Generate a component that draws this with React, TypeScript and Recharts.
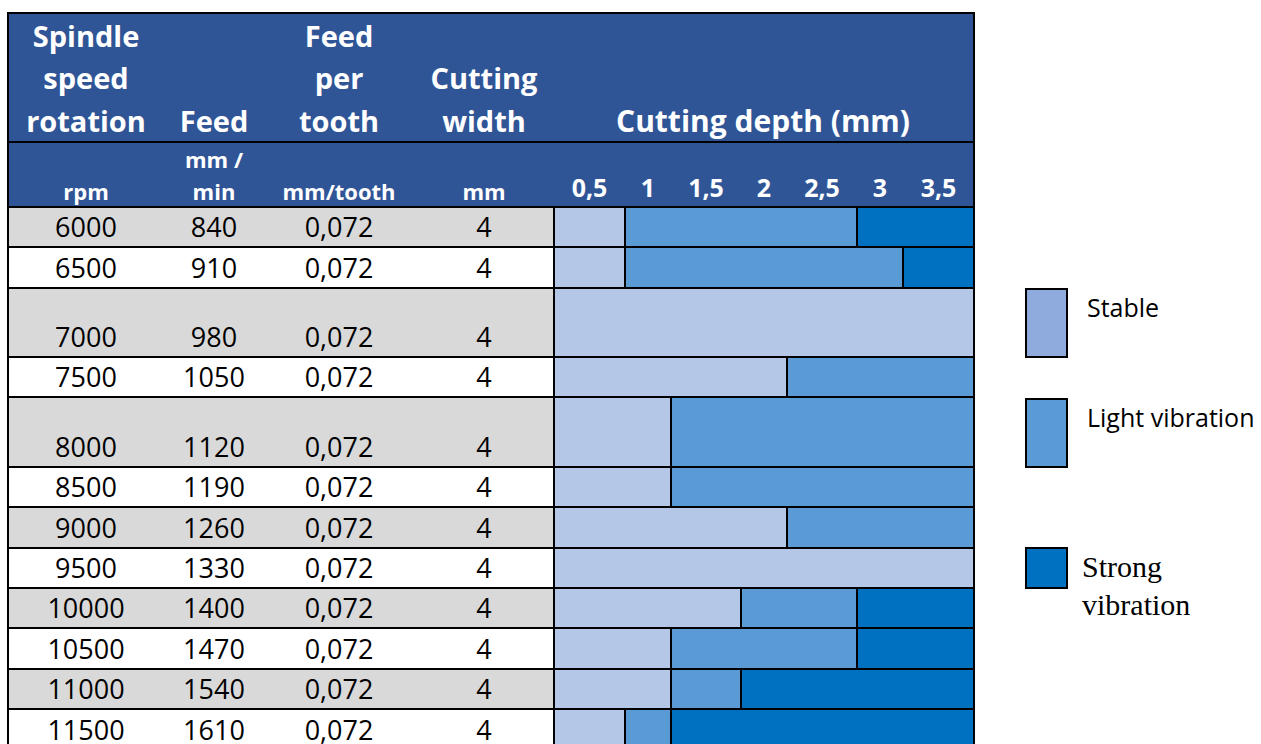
import React from "react";
import { BarChart, Bar, XAxis, YAxis } from "recharts";

const SPINDLE_RPM = [6000, 6500, 7000, 7500, 8000, 8500, 9000, 9500, 10000, 10500, 11000, 11500];
const FEED_MM_MIN = [840, 910, 980, 1050, 1120, 1190, 1260, 1330, 1400, 1470, 1540, 1610];
const FEED_PER_TOOTH = ["0,072", "0,072", "0,072", "0,072", "0,072", "0,072", "0,072", "0,072", "0,072", "0,072", "0,072", "0,072"];
const CUTTING_WIDTH = [4, 4, 4, 4, 4, 4, 4, 4, 4, 4, 4, 4];

// cutting depth columns (mm)
const DEPTH_LABELS = ["0,5", "1", "1,5", "2", "2,5", "3", "3,5"];
const DEPTH_TICKS = [0.25, 0.75, 1.25, 1.75, 2.25, 2.75, 3.25];

// extent (mm) of each vibration state along the depth axis, per row
const STABLE_MM = [0.5, 0.5, 3.5, 2, 1, 1, 2, 3.5, 1.5, 1, 1, 0.5];
const LIGHT_MM = [2, 2.5, 0, 1.5, 2.5, 2.5, 1.5, 0, 1, 1.5, 0.5, 0.5];
const STRONG_MM = [1, 0.5, 0, 0, 0, 0, 0, 0, 1, 1, 2, 2.5];

const SERIES = [
  { key: "stable", name: "Stable", color: "#B4C7E7", swatch: "#8FAADC" },
  { key: "light", name: "Light vibration", color: "#5B9BD5", swatch: "#5B9BD5" },
  { key: "strong", name: "Strong vibration", color: "#0070C0", swatch: "#0070C0" },
];

// ---- layout ----
const HEADER_BLUE = "#2F5597";
const ROW_GRAY = "#D9D9D9";
const FONT = "'Open Sans', sans-serif";
const LEFT = 8;
const RIGHT = 974;
const BAR_LEFT = 554;
const TOP = 13;
const HEAD1_BOTTOM = 142;
const HEAD2_BOTTOM = 207;
const ROW_HEIGHTS = [40, 41, 69, 40, 70, 40, 41, 40, 40, 41, 40, 41];
// excel column widths of the depth cells (they alternate)
const DEPTH_COL_WIDTHS = [71, 46, 70, 46, 70, 46, 71];
const COL_CENTERS = [86, 214, 339, 484];

const rowTops = ROW_HEIGHTS.reduce<number[]>(
  (acc, h) => [...acc, acc[acc.length - 1] + h],
  [HEAD2_BOTTOM]
);

// piecewise linear scale so every depth column gets its own width
function makeColumnScale(weights: number[]) {
  let dom: number[] = [0, 1];
  let rng: number[] = [0, 1];
  const total = weights.reduce((a, b) => a + b, 0);
  const cum = weights.reduce<number[]>((acc, w) => [...acc, acc[acc.length - 1] + w], [0]);
  const scale: any = (v: number) => {
    const n = weights.length;
    let t = ((Number(v) - dom[0]) / (dom[dom.length - 1] - dom[0])) * n;
    t = Math.max(0, Math.min(n, t));
    const i = Math.min(n - 1, Math.floor(t));
    const pos = (cum[i] + (t - i) * weights[i]) / total;
    return rng[0] + pos * (rng[rng.length - 1] - rng[0]);
  };
  scale.domain = (d?: number[]) => {
    if (d === undefined) return dom.slice();
    dom = d.map(Number);
    return scale;
  };
  scale.range = (r?: number[]) => {
    if (r === undefined) return rng.slice();
    rng = r.slice();
    return scale;
  };
  scale.copy = () => makeColumnScale(weights).domain(dom).range(rng);
  scale.ticks = () => DEPTH_TICKS;
  return scale;
}

const depthScale = makeColumnScale(DEPTH_COL_WIDTHS);
const CHART_WIDTH = RIGHT - LEFT;
const AXIS_WIDTH = BAR_LEFT - LEFT;
const HEAD2_HEIGHT = HEAD2_BOTTOM - HEAD1_BOTTOM;

// the four table cells of a row, drawn as the y axis tick
const RowCells = ({ index, baseline }: { index: number; baseline: number }) => {
  const cells = [SPINDLE_RPM[index], FEED_MM_MIN[index], FEED_PER_TOOTH[index], CUTTING_WIDTH[index]];
  return (
    <g>
      {cells.map((c, i) => (
        <text
          key={i}
          x={COL_CENTERS[i] - LEFT}
          y={baseline}
          textAnchor="middle"
          fontFamily={FONT}
          fontSize={27}
          fill="#000"
        >
          {c}
        </text>
      ))}
    </g>
  );
};

// depth column labels in the blue header
const DepthTick = (p: any) => (
  <text
    x={p.x}
    y={55}
    textAnchor="middle"
    fontFamily={FONT}
    fontWeight={700}
    fontSize={25}
    fill="#fff"
  >
    {DEPTH_LABELS[p.index]}
  </text>
);

function RowChart({ index }: { index: number }) {
  // the first row also carries the depth axis in the header band above it
  const withAxis = index === 0;
  const offset = withAxis ? HEAD2_HEIGHT : 0;
  const top = rowTops[index] - offset;
  const height = ROW_HEIGHTS[index] + offset;
  const data = [
    {
      rpm: String(SPINDLE_RPM[index]),
      stable: STABLE_MM[index],
      light: LIGHT_MM[index],
      strong: STRONG_MM[index],
    },
  ];
  return (
    <div style={{ position: "absolute", left: LEFT, top, width: CHART_WIDTH, height }}>
      <BarChart
        width={CHART_WIDTH}
        height={height}
        data={data}
        layout="vertical"
        margin={{ top: 0, right: 0, bottom: 0, left: 0 }}
        barCategoryGap={0}
        barGap={0}
      >
        <XAxis
          type="number"
          orientation="top"
          domain={[0, 3.5]}
          scale={depthScale}
          ticks={DEPTH_TICKS}
          hide={!withAxis}
          height={offset}
          axisLine={false}
          tickLine={false}
          tick={DepthTick}
        />
        <YAxis
          type="category"
          dataKey="rpm"
          width={AXIS_WIDTH}
          axisLine={false}
          tickLine={false}
          tick={() => <RowCells index={index} baseline={height - 10} />}
        />
        {SERIES.map((s) => (
          <Bar
            key={s.key}
            dataKey={s.key}
            name={s.name}
            stackId="depth"
            fill={s.color}
            stroke="#000"
            strokeWidth={2}
            isAnimationActive={false}
          />
        ))}
      </BarChart>
    </div>
  );
}

const headText = (x: number, y: number, t: string, size: number) => (
  <text key={`${x}-${y}-${t}`} x={x} y={y} textAnchor="middle" fontFamily={FONT} fontWeight={700} fontSize={size} fill="#fff">
    {t}
  </text>
);

export default function App() {
  const bottom = rowTops[rowTops.length - 1];
  return (
    <div style={{ position: "absolute", left: 0, top: 0, width: 1261, height: 744, overflow: "hidden", background: "#fff" }}>
      {/* backgrounds + header text */}
      <svg width={1261} height={744} style={{ position: "absolute", left: 0, top: 0 }}>
        <rect x={LEFT} y={TOP} width={RIGHT - LEFT} height={HEAD2_BOTTOM - TOP} fill={HEADER_BLUE} />
        {ROW_HEIGHTS.map((h, i) => (
          <rect key={i} x={LEFT} y={rowTops[i]} width={BAR_LEFT - LEFT} height={h} fill={i % 2 === 0 ? ROW_GRAY : "#fff"} />
        ))}
        {headText(COL_CENTERS[0], 47, "Spindle", 29)}
        {headText(COL_CENTERS[0], 89, "speed", 29)}
        {headText(COL_CENTERS[0], 132, "rotation", 29)}
        {headText(COL_CENTERS[1], 132, "Feed", 29)}
        {headText(COL_CENTERS[2], 47, "Feed", 29)}
        {headText(COL_CENTERS[2], 89, "per", 29)}
        {headText(COL_CENTERS[2], 132, "tooth", 29)}
        {headText(COL_CENTERS[3], 89, "Cutting", 29)}
        {headText(COL_CENTERS[3], 132, "width", 29)}
        {headText(763, 132, "Cutting depth (mm)", 30)}
        {headText(COL_CENTERS[0], 200, "rpm", 22)}
        {headText(COL_CENTERS[1], 168, "mm /", 22)}
        {headText(COL_CENTERS[1], 200, "min", 22)}
        {headText(COL_CENTERS[2], 200, "mm/tooth", 22)}
        {headText(COL_CENTERS[3], 200, "mm", 22)}
      </svg>

      {ROW_HEIGHTS.map((_, i) => (
        <RowChart key={i} index={i} />
      ))}

      {/* grid lines + legend */}
      <svg width={1261} height={744} style={{ position: "absolute", left: 0, top: 0, pointerEvents: "none" }}>
        {[TOP, HEAD1_BOTTOM, ...rowTops].map((y, i) => (
          <rect key={`h${i}`} x={LEFT - 1} y={y - 1} width={RIGHT - LEFT + 2} height={2} fill="#000" />
        ))}
        <rect x={LEFT - 1} y={TOP - 1} width={2} height={bottom - TOP + 2} fill="#000" />
        <rect x={RIGHT - 1} y={TOP - 1} width={2} height={bottom - TOP + 2} fill="#000" />
        <rect x={BAR_LEFT - 1} y={HEAD2_BOTTOM} width={2} height={bottom - HEAD2_BOTTOM} fill="#000" />

        {/* legend */}
        <rect x={1026} y={289} width={41} height={68} fill={SERIES[0].swatch} stroke="#000" strokeWidth={2} />
        <text x={1087} y={317} fontFamily={FONT} fontSize={25} fill="#000">{SERIES[0].name}</text>
        <rect x={1026} y={399} width={41} height={68} fill={SERIES[1].swatch} stroke="#000" strokeWidth={2} />
        <text x={1087} y={427} fontFamily={FONT} fontSize={25} fill="#000">{SERIES[1].name}</text>
        <rect x={1026} y={548} width={41} height={40} fill={SERIES[2].swatch} stroke="#000" strokeWidth={2} />
        <text x={1082} y={577} fontFamily="'Liberation Serif', serif" fontSize={30} fill="#000">Strong</text>
        <text x={1082} y={615} fontFamily="'Liberation Serif', serif" fontSize={30} fill="#000">vibration</text>
      </svg>
    </div>
  );
}
